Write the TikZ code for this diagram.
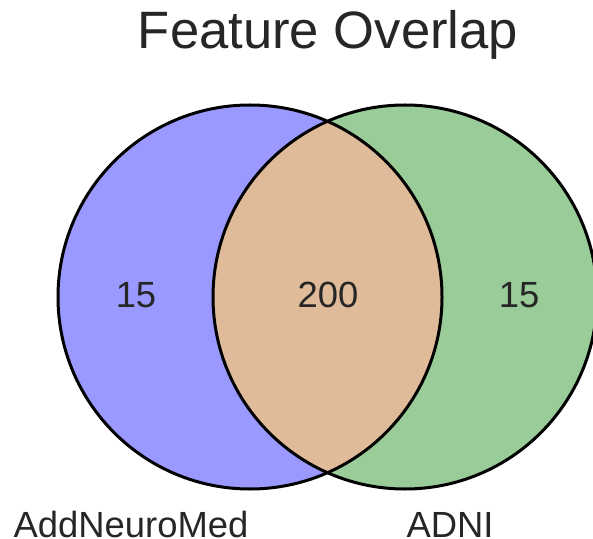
\documentclass[tikz,border=0pt]{standalone}
\usepackage{fontspec}
\setmainfont{Liberation Sans}
\usepackage{tikz}
\usetikzlibrary{positioning}
\definecolor{ink}{RGB}{38,38,38}
\definecolor{cLeft}{RGB}{153,153,255}
\definecolor{cRight}{RGB}{153,204,153}
\definecolor{cBoth}{RGB}{224,187,153}

\begin{document}
\begin{tikzpicture}[
  x=0.5pt, y=-0.5pt,
  ring/.style={draw=black, line width=1.5pt},
  cnt/.style={text=ink, font=\fontsize{18.2}{20}\selectfont, inner sep=0pt, anchor=base},
  lab/.style={text=ink, font=\fontsize{18.2}{20}\selectfont, inner sep=0pt, anchor=base},
  ttl/.style={text=ink, font=\fontsize{26.3}{30}\selectfont, inner sep=0pt, anchor=base}
]
\useasboundingbox (0,0) rectangle (593,539);

% ---------------- SETS ----------------
\coordinate (cA) at (250,297);
\coordinate (cB) at (405,297);
\fill[cLeft] (cA) circle[radius=192];
\fill[cRight] (cB) circle[radius=192];
\begin{scope}
  \clip (cA) circle[radius=192];
  \fill[cBoth] (cB) circle[radius=192];
\end{scope}
\draw[ring] (cA) circle[radius=192];
\draw[ring] (cB) circle[radius=192];

% ---------------- COUNTS ----------------
\node (nA)  at (136,307) [cnt] {15};
\node (nAB) at (328,307) [cnt] {200};
\node (nB)  at (519,307) [cnt] {15};

% ---------------- LABELS ----------------
\node (labA) at (131,537) [lab] {AddNeuroMed};
\node (labB) at (450,537) [lab] {ADNI};
\node (title) at (328,49) [ttl] {Feature Overlap};

\end{tikzpicture}
\end{document}
